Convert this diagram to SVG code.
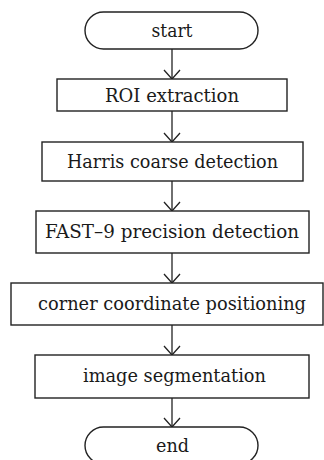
<svg xmlns="http://www.w3.org/2000/svg" width="324" height="460" viewBox="0 0 324 460">
<style>
.box{fill:#fff;stroke:#222;stroke-width:1.4}
.t{font-family:"DejaVu Serif","Liberation Serif",serif;font-size:18px;fill:#1a1a1a;text-anchor:middle}
.c{stroke:#222;stroke-width:1.3;fill:none}
</style>
<defs>
<marker id="ah" markerWidth="20" markerHeight="20" refX="10" refY="9" orient="auto" markerUnits="userSpaceOnUse" viewBox="0 0 20 20">
<path d="M1,1 L10,9 L1,17" fill="none" stroke="#222" stroke-width="1.3"/>
</marker>
</defs>
<rect width="324" height="460" fill="#fff"/>
<g id="connectors">
<line class="c" x1="172" y1="49" x2="172" y2="79" marker-end="url(#ah)"/>
<line class="c" x1="172" y1="111" x2="172" y2="142" marker-end="url(#ah)"/>
<line class="c" x1="172" y1="181" x2="172" y2="211" marker-end="url(#ah)"/>
<line class="c" x1="172" y1="253" x2="172" y2="283" marker-end="url(#ah)"/>
<line class="c" x1="172" y1="325" x2="172" y2="355" marker-end="url(#ah)"/>
<line class="c" x1="172" y1="398" x2="172" y2="427" marker-end="url(#ah)"/>
</g>
<g id="start">
<rect class="box" x="85" y="12" width="173" height="37" rx="18.5" ry="18.5"/>
<text class="t" x="172" y="37" textLength="41" lengthAdjust="spacingAndGlyphs">start</text>
</g>
<g id="roi">
<rect class="box" x="57" y="79" width="230" height="32"/>
<text class="t" x="172" y="101.5" textLength="134" lengthAdjust="spacingAndGlyphs">ROI extraction</text>
</g>
<g id="harris">
<rect class="box" x="42" y="142" width="261" height="39"/>
<text class="t" x="172.5" y="167.5" textLength="211" lengthAdjust="spacingAndGlyphs">Harris coarse detection</text>
</g>
<g id="fast">
<rect class="box" x="36" y="211" width="273" height="42"/>
<text class="t" x="172" y="237.5" textLength="254" lengthAdjust="spacingAndGlyphs">FAST–9 precision detection</text>
</g>
<g id="corner">
<rect class="box" x="11" y="283" width="312" height="42"/>
<text class="t" x="172" y="309.5" textLength="268" lengthAdjust="spacingAndGlyphs">corner coordinate positioning</text>
</g>
<g id="segmentation">
<rect class="box" x="35" y="355" width="274" height="43"/>
<text class="t" x="174.5" y="382" textLength="183" lengthAdjust="spacingAndGlyphs">image segmentation</text>
</g>
<g id="end">
<rect class="box" x="85" y="427" width="173" height="37" rx="18.5" ry="18.5"/>
<text class="t" x="172.5" y="452" textLength="33" lengthAdjust="spacingAndGlyphs">end</text>
</g>
</svg>
